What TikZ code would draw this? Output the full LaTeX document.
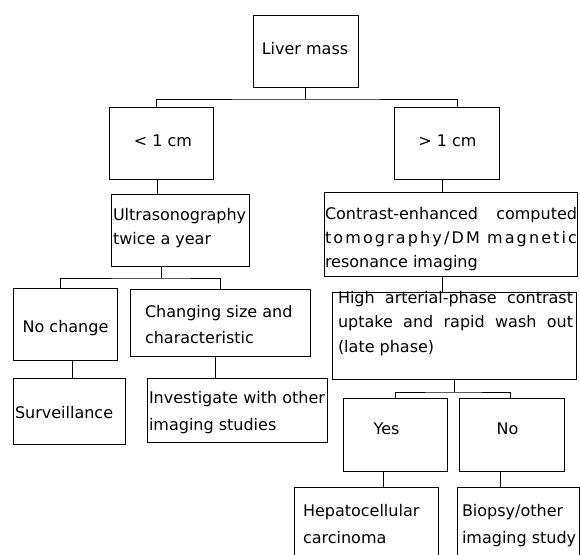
\documentclass[tikz,border=0pt]{standalone}
\usepackage{fontspec}
\setmainfont{DejaVu Sans}
\tikzset{
  boxst/.style={draw=black, line width=0.9pt, inner sep=0pt, outer sep=0pt},
  txt/.style={inner sep=0pt, outer sep=0pt, text=black, font=\fontsize{16}{24}\selectfont},
  conn/.style={draw=black, line width=0.9pt}
}
\newcommand\mkbox[5]{\node[boxst, minimum width={#4-#2}, minimum height={#5-#3}] (#1) at ({(#2+#4)/2},{(#3+#5)/2}) {};}
\begin{document}
\begin{tikzpicture}[x=1pt, y=-1pt]
\useasboundingbox (0,0) rectangle (580,554);
% boxes
\mkbox{liver}{253}{15}{358}{87}
\mkbox{lt}{109}{107}{213}{179}
\mkbox{gt}{394}{107}{499}{179}
\mkbox{us}{111}{194}{249}{266}
\mkbox{ct}{324}{192}{577}{276}
\mkbox{nc}{13}{288}{117}{360}
\mkbox{cs}{130}{289}{310}{356}
\mkbox{ha}{332}{292}{576}{379}
\mkbox{sv}{13}{378}{125}{444}
\mkbox{iv}{147}{378}{327}{442}
\mkbox{yes}{343}{398}{447}{471}
\mkbox{no}{459}{398}{564}{471}
\mkbox{hcc}{294}{487}{438}{562}
\mkbox{bio}{457}{487}{579}{562}
% texts
\node[txt, anchor=base] (tliver) at (305,54) {Liver mass};
\node[txt, anchor=base] (tlt) at (163,146) {< 1 cm};
\node[txt, anchor=base] (tgt) at (447.5,146) {> 1 cm};
\node[txt, anchor=base west] (tus) at (113,220) {\begin{tabular}[t]{@{}l@{}}Ultrasonography\\twice a year\end{tabular}};
\node[txt, anchor=base west] (tct) at (325,219) {\begin{tabular}[t]{@{}l@{}}\makebox[252pt][s]{Contrast-enhanced computed}\\
\makebox[252pt][l]{t\hfill o\hfill m\hfill o\hfill g\hfill r\hfill a\hfill p\hfill h\hfill y\hfill /\hfill D\hfill M\hspace{3pt}\hfill\hfill m\hfill a\hfill g\hfill n\hfill e\hfill t\hfill i\hfill c}\\
resonance imaging\end{tabular}};
\node[txt, anchor=base] (tnc) at (65.5,332) {No change};
\node[txt, anchor=base west] (tcs) at (145,317) {\begin{tabular}[t]{@{}l@{}}Changing size and\\[2pt]characteristic\end{tabular}};
\node[txt, anchor=base west] (tha) at (338,303) {\begin{tabular}[t]{@{}l@{}}\makebox[235pt][s]{High arterial-phase contrast}\\[0.5pt]
\makebox[235pt][s]{uptake and rapid wash out}\\[0.5pt](late phase)\end{tabular}};
\node[txt, anchor=base west] (tsv) at (15,418) {Surveillance};
\node[txt, anchor=base west] (tiv) at (149,403) {\begin{tabular}[t]{@{}l@{}}Investigate with other\\[3pt]imaging studies\end{tabular}};
\node[txt, anchor=base] (tyes) at (386.5,434) {Yes};
\node[txt, anchor=base] (tno) at (507.5,434) {No};
\node[txt, anchor=base west] (thcc) at (303,516) {\begin{tabular}[t]{@{}l@{}}Hepatocellular\\[3pt]carcinoma\end{tabular}};
\node[txt, anchor=base west] (tbio) at (462,516) {\begin{tabular}[t]{@{}l@{}}Biopsy/other\\[3pt]imaging study\end{tabular}};
% connectors
\draw[conn] (liver.south) -- ([yshift=-12pt]liver.south);
\draw[conn] ([xshift=-5pt]lt.north) |- ([yshift=-12pt]liver.south) -| ([xshift=10.5pt]gt.north);
\draw[conn] ([xshift=-4pt]lt.south) -- ([xshift=-23pt]us.north);
\draw[conn] ([xshift=-4.5pt]gt.south) -- ([xshift=-8.5pt]ct.north);
\draw[conn] ([xshift=-19pt]us.south) -- ([xshift=-19pt,yshift=-12pt]us.south);
\draw[conn] ([xshift=-5pt]nc.north) |- ([xshift=-19pt,yshift=-12pt]us.south) -| (cs.north);
\draw[conn] ([xshift=7pt]nc.south) -- ([xshift=3pt]sv.north);
\draw[conn] ([xshift=-5pt]cs.south) -- ([xshift=-22pt]iv.north);
\draw[conn] ([xshift=-8.5pt]ct.south) -- ([xshift=-12pt]ha.north);
\draw[conn] (ha.south) -- ([yshift=-13pt]ha.south);
\draw[conn] (yes.north) |- ([yshift=-13pt]ha.south) -| ([xshift=-1.5pt]no.north);
\draw[conn] ([xshift=-12pt]yes.south) -- ([xshift=17pt]hcc.north);
\draw[conn] ([xshift=-11.5pt]no.south) -- ([xshift=-18pt]bio.north);
\end{tikzpicture}
\end{document}
